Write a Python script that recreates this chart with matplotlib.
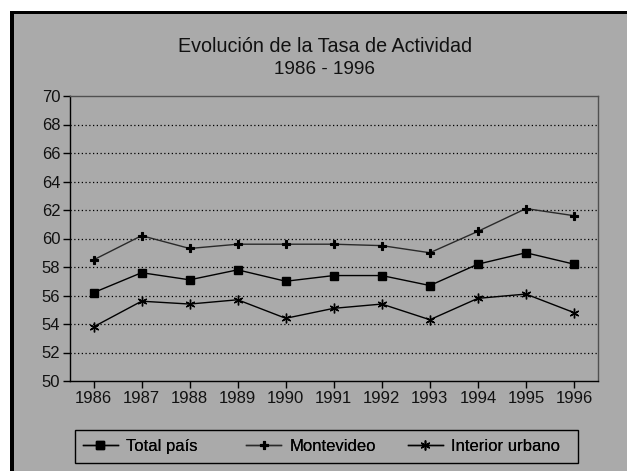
import numpy as np
import matplotlib
matplotlib.use("Agg")
import matplotlib.pyplot as plt
from matplotlib.patches import Rectangle

plt.rcParams['font.family'] = ['Liberation Sans', 'DejaVu Sans']

# datos
years = ['1986', '1987', '1988', '1989', '1990', '1991', '1992', '1993', '1994', '1995', '1996']
total_pais = [56.2, 57.6, 57.1, 57.8, 57.0, 57.4, 57.4, 56.7, 58.2, 59.0, 58.2]
montevideo = [58.5, 60.2, 59.3, 59.6, 59.6, 59.6, 59.5, 59.0, 60.5, 62.1, 61.6]
interior = [53.8, 55.6, 55.4, 55.7, 54.4, 55.1, 55.4, 54.3, 55.8, 56.1, 54.8]

gris = '#aaaaaa'
W, H = 627, 471

fig = plt.figure(figsize=(W / 100, H / 100), dpi=100, facecolor='white')

# marco negro y fondo gris
fig.patches.append(Rectangle((10 / W, 0), (W - 10) / W, (H - 11) / H,
                             transform=fig.transFigure, facecolor='black',
                             edgecolor='none', zorder=-2))
fig.patches.append(Rectangle((14 / W, 0), (W - 14) / W, (H - 14) / H,
                             transform=fig.transFigure, facecolor=gris,
                             edgecolor='none', zorder=-1))

ax = fig.add_axes([70 / W, 1 - 381 / H, (598 - 70) / W, (381 - 96) / H])
ax.set_facecolor(gris)

x = np.arange(len(years))
l1, = ax.plot(x, total_pais, color='black', lw=1, marker='s', ms=5.8,
              label='Total país')
l2, = ax.plot(x, montevideo, color='#2a2a2a', lw=1, marker='P', ms=5.5,
              markeredgewidth=0.8, markeredgecolor='black',
              markerfacecolor='black', label='Montevideo')
l3, = ax.plot(x, interior, color='black', lw=1, marker=(6, 2, 0), ms=7,
              markeredgewidth=1, label='Interior urbano')

ax.set_xlim(-0.49, 10.5)
ax.set_ylim(50, 70)
ax.set_yticks(np.arange(50, 71, 2))
ax.set_xticks(x)
ax.set_xticklabels(years)

for v in range(52, 70, 2):
    ax.axhline(v, color='black', lw=0.9, ls=(0, (1, 2)), zorder=0)

ax.tick_params(axis='both', direction='out', length=5, width=1,
               color='black', labelsize=12, labelcolor='#111111', pad=2)
ax.spines['left'].set_color('black')
ax.spines['bottom'].set_color('black')
ax.spines['top'].set_color('#505050')
ax.spines['right'].set_color('#505050')
for s in ax.spines.values():
    s.set_linewidth(1)

fig.text(325 / W, 1 - 46 / H, 'Evolución de la Tasa de Actividad',
         ha='center', va='center', fontsize=14.2, color='#111111')
fig.text(324 / W, 1 - 69 / H, '1986 - 1996',
         ha='center', va='center', fontsize=13.6, color='#111111')

# leyenda: marco propio y una entrada por columna
fig.patches.append(Rectangle((75 / W, 1 - 463 / H), 503 / W, 33 / H,
                             transform=fig.transFigure, facecolor='none',
                             edgecolor='black', lw=1, zorder=3))
for handle, x0 in zip([l1, l2, l3], [83, 246, 408]):
    lg = fig.legend(handles=[handle], loc='center left',
                    bbox_to_anchor=(x0 / W, 1 - 446.5 / H),
                    bbox_transform=fig.transFigure, borderaxespad=0,
                    borderpad=0, frameon=False, fontsize=12,
                    handlelength=2.1, handletextpad=0.5)
    fig.add_artist(lg)

fig.savefig('out.png', dpi=100, facecolor='white')
